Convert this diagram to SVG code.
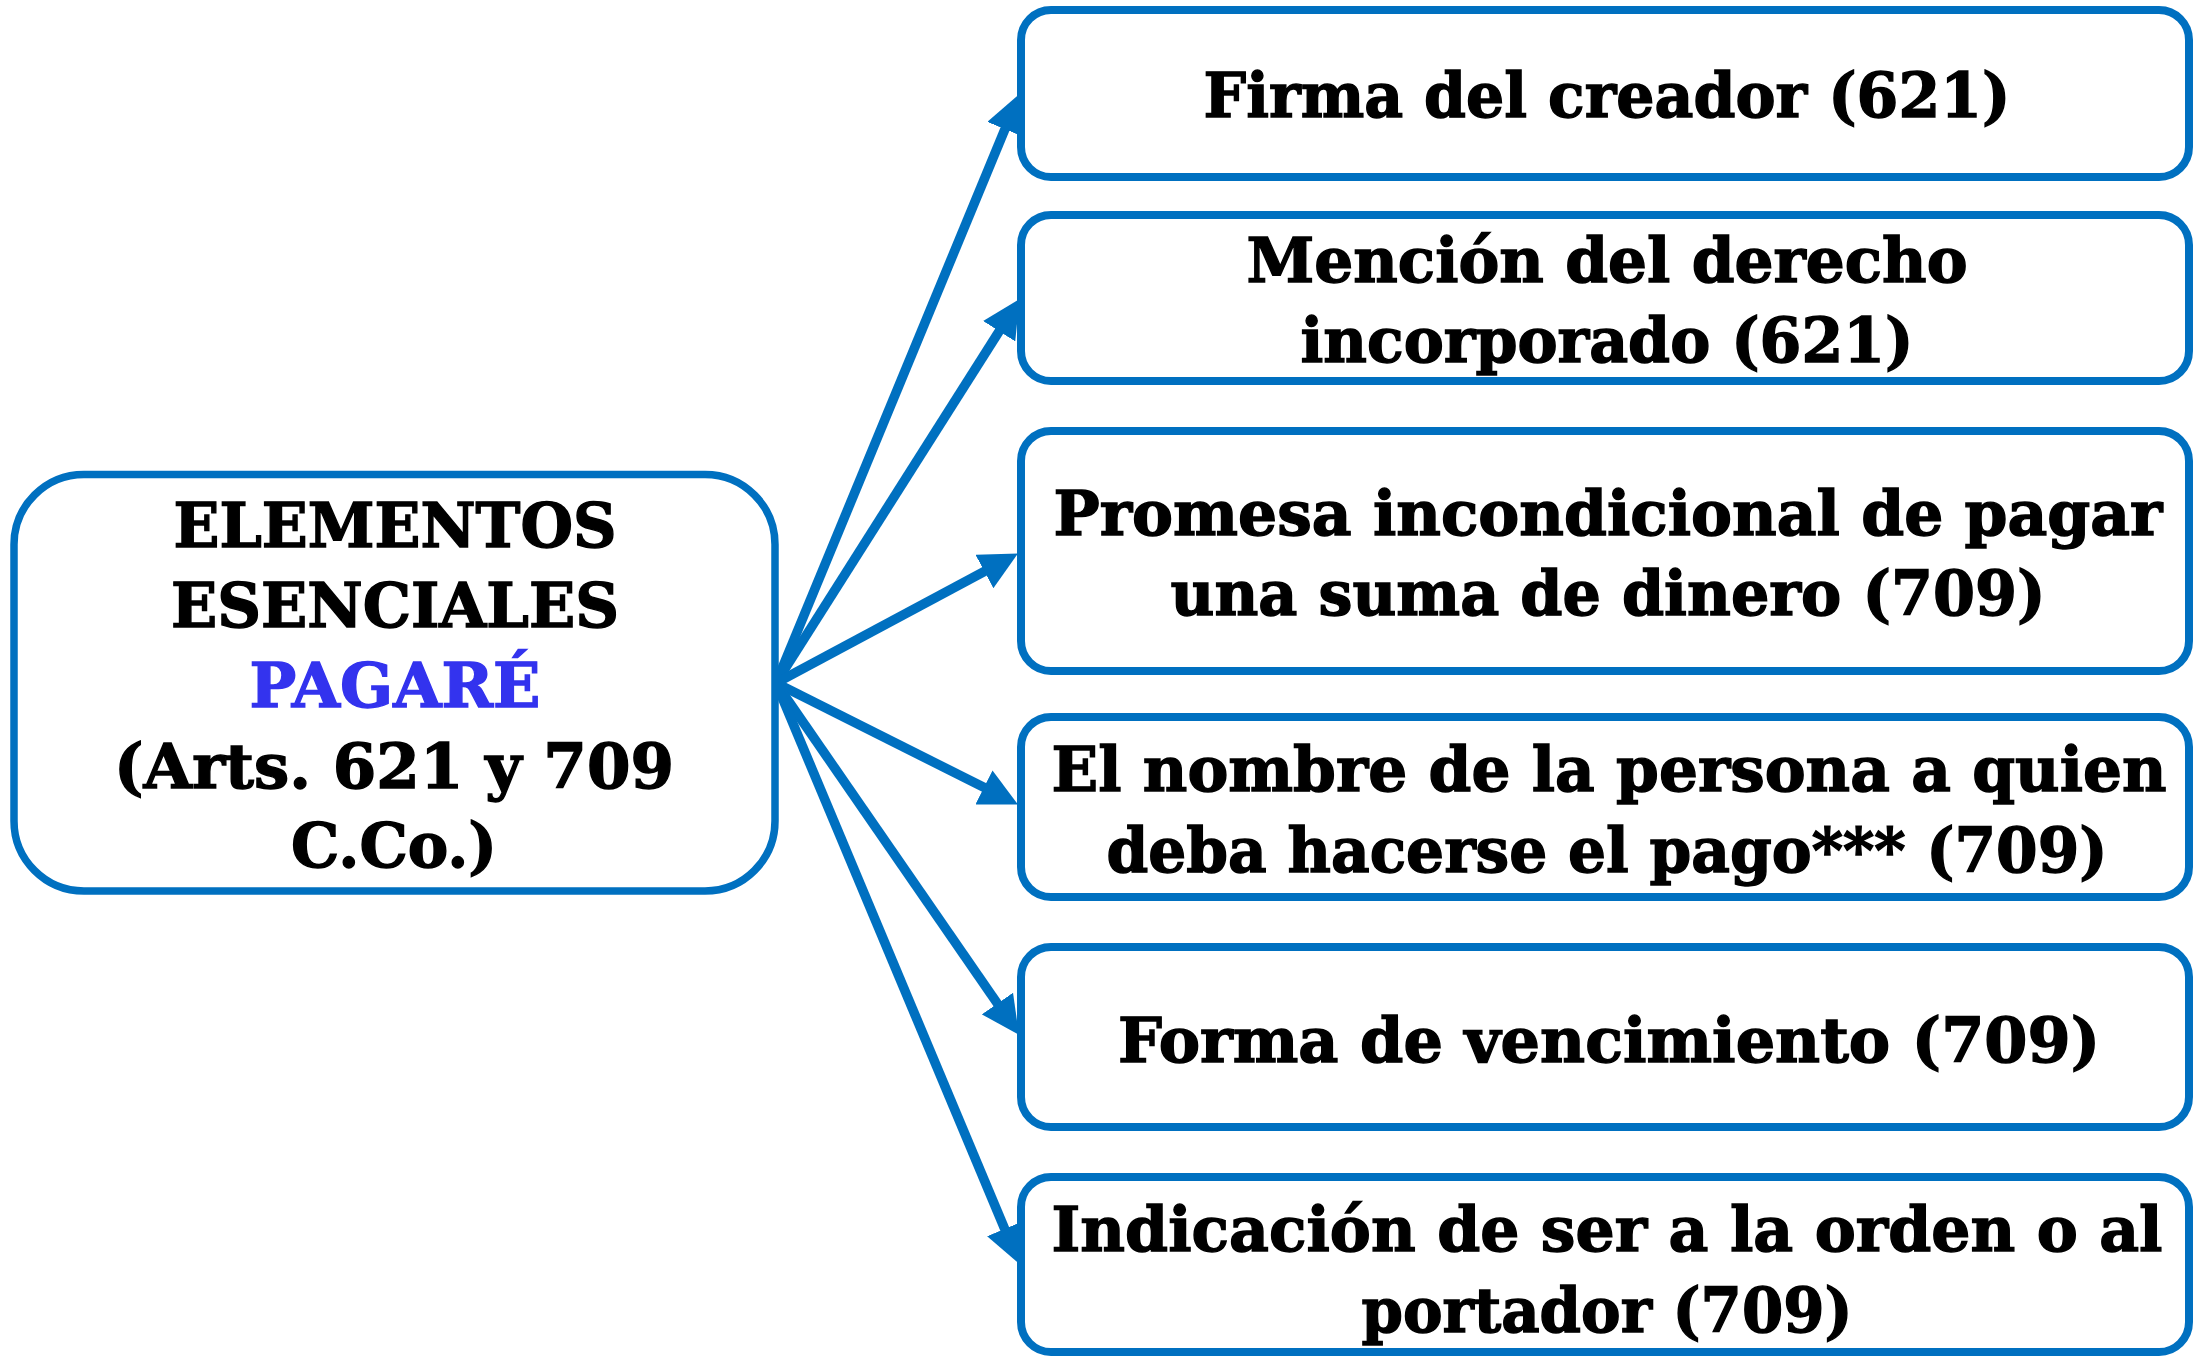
<svg xmlns="http://www.w3.org/2000/svg" width="2194" height="1357" viewBox="0 0 2194 1357">
<style>
.box{fill:#FFFFFF;stroke:#0070C0;stroke-width:8}
.lbox{fill:#FFFFFF;stroke:#0070C0;stroke-width:7.5}
.t{font-family:"DejaVu Serif","Liberation Serif",serif;font-weight:bold;font-size:62px;fill:#000000;stroke:#000000;stroke-width:1.4;text-anchor:middle}
.blue{fill:#3333EE;stroke:#3333EE}
.conn{stroke:#0070C0;stroke-width:9.5;fill:none;marker-end:url(#ah)}
</style>
<defs>
<marker id="ah" markerUnits="userSpaceOnUse" markerWidth="38" markerHeight="38" viewBox="0 0 38 38" refX="12" refY="19" orient="auto">
<path d="M0,0 L38,19 L0,38 z" fill="#0070C0"/>
</marker>
</defs>
<rect width="2194" height="1357" fill="#FFFFFF"/>
<g id="connectors">
<line class="conn" x1="776" y1="683" x2="1009.5" y2="118.1"/>
<line class="conn" x1="776" y1="683" x2="1005.6" y2="321.1"/>
<line class="conn" x1="776" y1="683" x2="995.0" y2="565.8"/>
<line class="conn" x1="776" y1="683" x2="994.7" y2="792.8"/>
<line class="conn" x1="776" y1="683" x2="1004.2" y2="1013.4"/>
<line class="conn" x1="776" y1="683" x2="1009.3" y2="1239.9"/>
</g>
<g id="node-main">
<rect class="lbox" x="14" y="474.5" width="761" height="416.5" rx="70" ry="70"/>
<text class="t" x="395" y="547" textLength="443" lengthAdjust="spacingAndGlyphs">ELEMENTOS</text>
<text class="t" x="395" y="627" textLength="448" lengthAdjust="spacingAndGlyphs">ESENCIALES</text>
<text class="t blue" x="395" y="707" textLength="291" lengthAdjust="spacingAndGlyphs">PAGARÉ</text>
<text class="t" x="394" y="788" textLength="560" lengthAdjust="spacingAndGlyphs">(Arts. 621 y 709</text>
<text class="t" x="394" y="867" textLength="206" lengthAdjust="spacingAndGlyphs">C.Co.)</text>
</g>
<g id="node-firma">
<rect class="box" x="1021" y="10" width="1168" height="167" rx="30" ry="30"/>
<text class="t" x="1607" y="117" textLength="807" lengthAdjust="spacingAndGlyphs">Firma del creador (621)</text>
</g>
<g id="node-mencion">
<rect class="box" x="1021" y="215" width="1168" height="166" rx="30" ry="30"/>
<text class="t" x="1607" y="282" textLength="721" lengthAdjust="spacingAndGlyphs">Mención del derecho</text>
<text class="t" x="1607" y="362" textLength="613" lengthAdjust="spacingAndGlyphs">incorporado (621)</text>
</g>
<g id="node-promesa">
<rect class="box" x="1021" y="431" width="1168" height="240" rx="30" ry="30"/>
<text class="t" x="1608" y="535" textLength="1109" lengthAdjust="spacingAndGlyphs">Promesa incondicional de pagar</text>
<text class="t" x="1608" y="615" textLength="875" lengthAdjust="spacingAndGlyphs">una suma de dinero (709)</text>
</g>
<g id="node-nombre">
<rect class="box" x="1021" y="717" width="1168" height="180" rx="30" ry="30"/>
<text class="t" x="1609" y="791" textLength="1115" lengthAdjust="spacingAndGlyphs">El nombre de la persona a quien</text>
<text class="t" x="1607" y="872" textLength="1001" lengthAdjust="spacingAndGlyphs">deba hacerse el pago*** (709)</text>
</g>
<g id="node-forma">
<rect class="box" x="1021" y="947" width="1168" height="180" rx="30" ry="30"/>
<text class="t" x="1609" y="1062" textLength="982" lengthAdjust="spacingAndGlyphs">Forma de vencimiento (709)</text>
</g>
<g id="node-indicacion">
<rect class="box" x="1021" y="1177" width="1168" height="175" rx="30" ry="30"/>
<text class="t" x="1607" y="1251" textLength="1111" lengthAdjust="spacingAndGlyphs">Indicación de ser a la orden o al</text>
<text class="t" x="1607" y="1332" textLength="491" lengthAdjust="spacingAndGlyphs">portador (709)</text>
</g>
</svg>
